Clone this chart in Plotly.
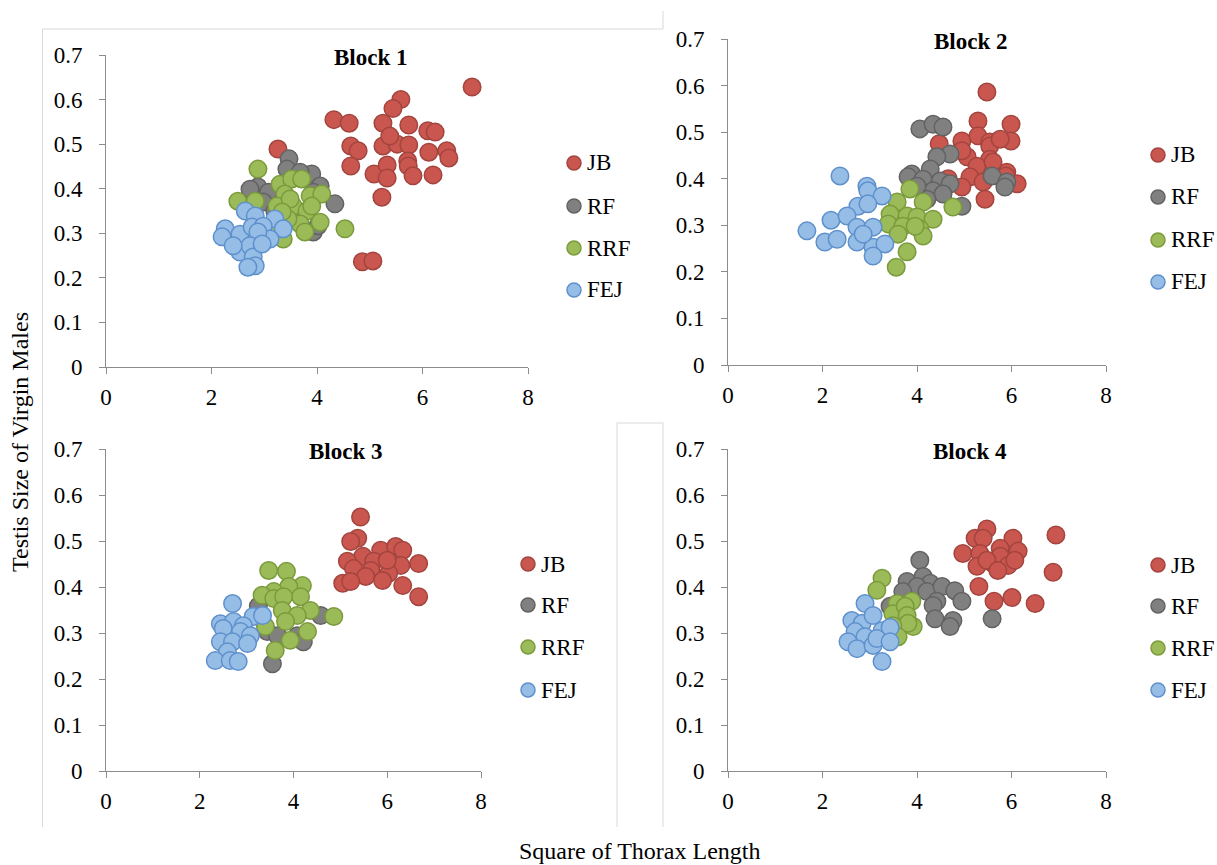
import plotly.graph_objects as go

# ---------------- data (Square of Thorax Length, Testis Size) ----------------
series_names = ["JB", "RF", "RRF", "FEJ"]
block_titles = ["Block 1", "Block 2", "Block 3", "Block 4"]
x_ticks = [0, 2, 4, 6, 8]
y_ticks = [0, 0.1, 0.2, 0.3, 0.4, 0.5, 0.6, 0.7]
y_tick_text = ["0", "0.1", "0.2", "0.3", "0.4", "0.5", "0.6", "0.7"]
x_axis_title = "Square of Thorax Length"
y_axis_title = "Testis Size of Virgin Males"

# Block 1
b1_JB_x = [6.94, 5.59, 5.44, 4.32, 4.61, 5.25, 5.74, 6.10, 6.24, 5.25, 5.52, 5.74, 5.38, 4.64, 4.78,
           6.12, 6.46, 6.50, 4.64, 5.08, 5.33, 5.33, 5.72, 5.73, 5.82, 6.20, 5.23, 4.86, 5.06, 3.26]
b1_JB_y = [0.628, 0.600, 0.580, 0.555, 0.547, 0.547, 0.543, 0.530, 0.527, 0.496, 0.500, 0.498, 0.518, 0.496, 0.485,
           0.482, 0.485, 0.469, 0.451, 0.433, 0.453, 0.424, 0.462, 0.451, 0.429, 0.431, 0.381, 0.236, 0.238, 0.489]
b1_RF_x = [3.47, 4.34, 3.90, 4.06, 2.88, 3.08, 2.73, 2.98, 3.93, 4.02, 3.43, 3.68, 3.93, 3.20, 3.60]
b1_RF_y = [0.467, 0.366, 0.433, 0.406, 0.404, 0.392, 0.399, 0.370, 0.303, 0.317, 0.444, 0.437, 0.392, 0.350, 0.330]
b1_RRF_x = [2.88, 2.50, 2.83, 3.30, 3.52, 3.71, 3.39, 3.87, 4.09, 3.24, 3.55, 3.81, 4.06, 3.68, 3.77,
            3.45, 4.53, 3.36, 3.17, 3.90, 3.49, 3.34]
b1_RRF_y = [0.444, 0.372, 0.372, 0.410, 0.422, 0.422, 0.388, 0.384, 0.388, 0.361, 0.361, 0.350, 0.325, 0.321, 0.303,
            0.332, 0.310, 0.287, 0.310, 0.361, 0.377, 0.348]
b1_FEJ_x = [2.64, 2.83, 3.20, 3.36, 2.26, 2.20, 2.54, 2.77, 2.98, 3.11, 2.88, 2.54, 2.73, 2.79, 2.83,
            2.69, 2.41, 2.96]
b1_FEJ_y = [0.350, 0.339, 0.332, 0.310, 0.310, 0.292, 0.298, 0.314, 0.316, 0.287, 0.303, 0.258, 0.272, 0.247, 0.227,
            0.224, 0.272, 0.276]

# Block 2
b2_JB_x = [5.48, 5.29, 5.99, 4.47, 4.95, 5.29, 5.54, 5.54, 5.99, 5.76, 5.06, 5.54, 5.27, 5.90, 5.12,
           5.40, 6.12, 4.95, 5.44, 5.61, 4.95, 4.66, 5.88]
b2_JB_y = [0.586, 0.524, 0.517, 0.475, 0.481, 0.492, 0.479, 0.470, 0.481, 0.485, 0.447, 0.442, 0.427, 0.414, 0.404,
           0.393, 0.389, 0.382, 0.356, 0.436, 0.460, 0.400, 0.406]
b2_RF_x = [4.06, 4.34, 4.55, 4.70, 4.42, 4.28, 3.89, 3.81, 4.13, 4.49, 4.70, 4.34, 4.55, 4.21, 4.95,
           5.59, 5.90, 5.86, 4.00]
b2_RF_y = [0.507, 0.517, 0.511, 0.453, 0.447, 0.421, 0.410, 0.404, 0.399, 0.395, 0.389, 0.374, 0.367, 0.356, 0.341,
           0.406, 0.393, 0.382, 0.384]
b2_RRF_x = [3.85, 3.58, 4.13, 4.76, 3.43, 3.79, 4.00, 3.39, 3.70, 4.34, 4.06, 3.60, 4.13, 3.79, 3.56, 3.96]
b2_RRF_y = [0.378, 0.350, 0.350, 0.339, 0.324, 0.320, 0.318, 0.303, 0.298, 0.313, 0.292, 0.281, 0.277, 0.243, 0.210, 0.298]
b2_FEJ_x = [2.37, 2.94, 2.96, 3.26, 2.75, 2.96, 2.18, 2.52, 2.73, 3.07, 1.67, 2.05, 2.31, 2.73, 3.07,
            3.32, 3.07, 2.86]
b2_FEJ_y = [0.406, 0.384, 0.374, 0.363, 0.341, 0.346, 0.311, 0.320, 0.296, 0.296, 0.288, 0.264, 0.270, 0.264, 0.253,
            0.260, 0.234, 0.281]

# Block 3
b3_JB_x = [5.43, 5.37, 5.22, 5.86, 6.18, 6.33, 5.48, 5.15, 5.71, 6.67, 6.29, 5.28, 5.65, 6.03, 5.54,
           5.05, 5.22, 5.90, 6.33, 6.67, 6.00]
b3_JB_y = [0.552, 0.506, 0.499, 0.480, 0.488, 0.480, 0.467, 0.456, 0.456, 0.451, 0.447, 0.440, 0.436, 0.430, 0.423,
           0.408, 0.412, 0.414, 0.403, 0.379, 0.458]
b3_RF_x = [3.55, 4.58, 3.25, 3.44, 4.08, 3.66, 4.21]
b3_RF_y = [0.233, 0.338, 0.358, 0.303, 0.294, 0.294, 0.281]
b3_RRF_x = [3.47, 3.85, 4.19, 3.90, 3.58, 3.33, 3.58, 4.15, 3.79, 4.36, 4.86, 3.76, 4.08, 3.83, 3.40,
            4.30, 3.93, 3.61]
b3_RRF_y = [0.436, 0.434, 0.403, 0.401, 0.390, 0.382, 0.375, 0.379, 0.379, 0.349, 0.336, 0.349, 0.338, 0.325, 0.314,
            0.303, 0.284, 0.262]
b3_FEJ_x = [2.70, 3.14, 3.34, 2.44, 2.72, 2.93, 2.50, 2.87, 3.08, 2.44, 2.70, 3.02, 2.59, 2.33, 2.65, 2.82]
b3_FEJ_y = [0.364, 0.336, 0.338, 0.320, 0.325, 0.316, 0.310, 0.303, 0.294, 0.281, 0.281, 0.277, 0.259, 0.240, 0.240, 0.238]

# Block 4
b4_JB_x = [5.48, 5.23, 5.40, 6.03, 6.94, 4.97, 5.33, 5.76, 6.14, 5.27, 5.61, 5.76, 5.93, 5.48, 5.71,
           6.07, 6.88, 5.31, 5.63, 6.01, 6.50]
b4_JB_y = [0.526, 0.506, 0.506, 0.506, 0.513, 0.473, 0.473, 0.484, 0.478, 0.445, 0.451, 0.467, 0.447, 0.458, 0.436,
           0.458, 0.432, 0.401, 0.369, 0.377, 0.364]
b4_RF_x = [4.06, 3.79, 4.13, 4.28, 4.00, 3.70, 4.21, 4.53, 4.80, 4.95, 4.42, 4.34, 3.43, 4.38, 4.76, 4.70, 5.59]
b4_RF_y = [0.458, 0.412, 0.423, 0.408, 0.401, 0.390, 0.390, 0.401, 0.392, 0.369, 0.369, 0.360, 0.358, 0.331, 0.327,
           0.314, 0.331]
b4_RRF_x = [3.26, 3.15, 3.58, 3.89, 3.49, 3.75, 3.79, 3.92, 3.81, 3.49, 3.60]
b4_RRF_y = [0.419, 0.393, 0.364, 0.369, 0.342, 0.358, 0.338, 0.314, 0.321, 0.316, 0.292]
b4_FEJ_x = [2.90, 2.62, 2.84, 3.07, 2.69, 2.90, 2.54, 2.73, 3.07, 3.26, 3.43, 3.15, 3.43, 3.26]
b4_FEJ_y = [0.364, 0.327, 0.321, 0.338, 0.303, 0.292, 0.281, 0.266, 0.273, 0.305, 0.312, 0.288, 0.281, 0.238]

blocks = [
    [(b1_JB_x, b1_JB_y), (b1_RF_x, b1_RF_y), (b1_RRF_x, b1_RRF_y), (b1_FEJ_x, b1_FEJ_y)],
    [(b2_JB_x, b2_JB_y), (b2_RF_x, b2_RF_y), (b2_RRF_x, b2_RRF_y), (b2_FEJ_x, b2_FEJ_y)],
    [(b3_JB_x, b3_JB_y), (b3_RF_x, b3_RF_y), (b3_RRF_x, b3_RRF_y), (b3_FEJ_x, b3_FEJ_y)],
    [(b4_JB_x, b4_JB_y), (b4_RF_x, b4_RF_y), (b4_RRF_x, b4_RRF_y), (b4_FEJ_x, b4_FEJ_y)],
]

# ---------------- style ----------------
W, H = 1217, 865
FONT = "Liberation Serif, Times New Roman, serif"
fill_colors = ["#C9574F", "#808080", "#9BBB59", "#95BDE6"]
line_colors = ["#A3443E", "#626262", "#7A9A3C", "#5E90CC"]
AX_COLOR = "#8C8C8C"
BOX_COLOR = "#D9D9D9"

# plot-area pixel boxes: (left, right, top, bottom)
areas = [(106, 528, 55, 367), (728, 1106, 39, 365), (106, 481, 449, 771), (728, 1106, 449, 771)]
# legend: marker centre x, text left x, row centres y
legend_geom = [
    (574, 585, [163, 206, 248, 290]),
    (1158, 1169, [155, 197, 240, 282]),
    (528, 539, [564, 605, 647, 690]),
    (1158, 1169, [565, 606, 648, 690]),
]
title_pos = [(370, 57), (970, 42), (345, 452), (970, 452)]


def px_x(v):
    return v / W


def px_y(v):
    return 1 - v / H


fig = go.Figure()
layout_upd = {}
shapes = []
annotations = []
for k, (data, (l, r, t, b)) in enumerate(zip(blocks, areas), start=1):
    sx = "" if k == 1 else str(k)
    for i, (xs, ys) in enumerate(data):
        fig.add_trace(go.Scatter(
            x=xs, y=ys, mode="markers", name=series_names[i],
            xaxis="x" + sx, yaxis="y" + sx, showlegend=False,
            marker=dict(size=17.5, color=fill_colors[i], line=dict(color=line_colors[i], width=1.5)),
            hoverinfo="x+y+name",
        ))
    common = dict(showgrid=False, zeroline=False, showline=True, linecolor=AX_COLOR, linewidth=1,
                  ticks="outside", ticklen=6, tickcolor=AX_COLOR, tickwidth=1, automargin=False,
                  tickfont=dict(family=FONT, size=23, color="black"), fixedrange=True)
    layout_upd["xaxis" + sx] = dict(common, domain=[px_x(l), px_x(r)], range=[0, 8],
                                     tickvals=x_ticks, anchor="y" + sx, ticklabelstandoff=3)
    layout_upd["yaxis" + sx] = dict(common, domain=[px_y(b), px_y(t)], range=[0, 0.7],
                                     tickvals=y_ticks, ticktext=y_tick_text, anchor="x" + sx,
                                     ticklabelstandoff=12)
    # legend drawn as circle markers + text
    mx, tx, rows = legend_geom[k - 1]
    for i, ry in enumerate(rows):
        shapes.append(dict(type="circle", xref="paper", yref="paper", xsizemode="pixel", ysizemode="pixel",
                           xanchor=px_x(mx), yanchor=px_y(ry), x0=-7, x1=7, y0=-7, y1=7,
                           fillcolor=fill_colors[i], line=dict(color=line_colors[i], width=1.5)))
        annotations.append(dict(text=series_names[i], x=px_x(tx), y=px_y(ry), xref="paper", yref="paper",
                                showarrow=False, xanchor="left", yanchor="middle",
                                font=dict(family=FONT, size=23, color="black")))

for k, (tx, ty) in enumerate(title_pos):
    annotations.append(dict(text=f"<b>{block_titles[k]}</b>", x=px_x(tx), y=px_y(ty), xref="paper", yref="paper",
                            showarrow=False, xanchor="center", yanchor="middle",
                            font=dict(family=FONT, size=23, color="black")))
annotations.append(dict(text=x_axis_title, x=px_x(640), y=px_y(851), xref="paper", yref="paper",
                        showarrow=False, xanchor="center", yanchor="middle",
                        font=dict(family=FONT, size=24, color="black")))
annotations.append(dict(text=y_axis_title, x=px_x(20), y=px_y(442), xref="paper", yref="paper",
                        showarrow=False, xanchor="center", yanchor="middle", textangle=-90,
                        font=dict(family=FONT, size=24, color="black")))

box_lines = [
    (42.5, 29, 42.5, 827), (42.5, 29, 663, 29), (663, 11, 663, 29),
    (617, 423, 617, 827), (617, 423, 663, 423), (663, 423, 663, 827),
]
shapes += [dict(type="line", xref="paper", yref="paper", x0=px_x(a), y0=px_y(b_), x1=px_x(c), y1=px_y(d),
                line=dict(color=BOX_COLOR, width=1)) for a, b_, c, d in box_lines]

fig.update_layout(
    width=W, height=H, autosize=False,
    margin=dict(l=0, r=0, t=0, b=0, pad=0, autoexpand=False),
    paper_bgcolor="white", plot_bgcolor="white", showlegend=False,
    annotations=annotations, shapes=shapes, **layout_upd,
)
fig.write_html("out.html")
